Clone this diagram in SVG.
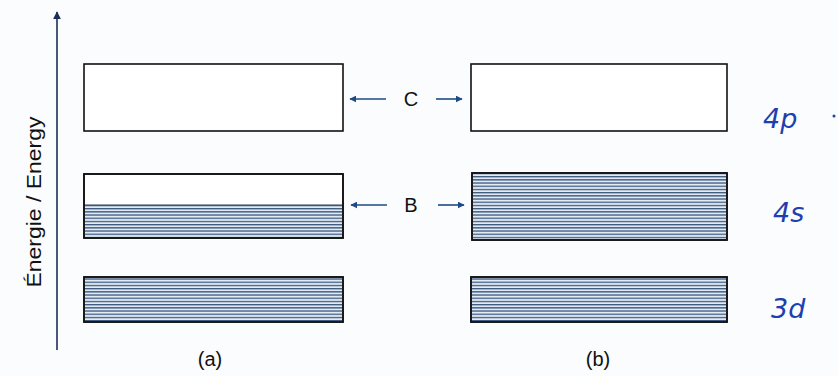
<svg xmlns="http://www.w3.org/2000/svg" width="838" height="376" viewBox="0 0 838 376">
<defs>
<pattern id="hatch" width="8" height="3.2" patternUnits="userSpaceOnUse">
<rect width="8" height="3.2" fill="#e2eaf3"/>
<rect y="0" width="8" height="1.3" fill="#3a5780"/>
</pattern>
<marker id="ah" viewBox="0 0 10 10" refX="9" refY="5" markerWidth="7" markerHeight="7" markerUnits="userSpaceOnUse" orient="auto">
<path d="M0,0 L10,5 L0,10 z" fill="#1f4a86"/>
</marker>
<marker id="axh" viewBox="0 0 10 10" refX="9" refY="5" markerWidth="8" markerHeight="8" markerUnits="userSpaceOnUse" orient="auto">
<path d="M0,0 L10,5 L0,10 z" fill="#1b2f5a"/>
</marker>
</defs>
<style>
.box{fill:#ffffff;stroke:#111;stroke-width:1.6}
.hb{fill:url(#hatch);stroke:none}
.lbl{font-family:"Liberation Sans",Arial,sans-serif;font-size:20px;fill:#111}
.hand{font-family:"DejaVu Sans",sans-serif;font-size:27px;fill:#1e3fb0;font-style:italic;font-weight:300}
.arr{stroke:#1f4a86;stroke-width:1.6;fill:none}
</style>
<rect width="838" height="376" fill="#fbfcfd"/>
<g id="axis">
<line x1="57" y1="350" x2="57" y2="12" stroke="#1b2f5a" stroke-width="1.6" marker-end="url(#axh)"/>
<text class="lbl" transform="translate(41,202) rotate(-90)" text-anchor="middle" textLength="171" lengthAdjust="spacingAndGlyphs" font-size="19">Énergie / Energy</text>
</g>
<g id="a-top"><rect class="box" x="84" y="64" width="259" height="67"/></g>
<g id="a-mid">
<rect class="box" x="84" y="174" width="259" height="64"/>
<rect class="hb" x="85" y="205" width="257" height="32"/>
<line x1="84" y1="205" x2="343" y2="205" stroke="#2a3f5a" stroke-width="1"/>
<rect x="84" y="174" width="259" height="64" fill="none" stroke="#111" stroke-width="1.6"/>
</g>
<g id="a-bot">
<rect class="box" x="84" y="277" width="259" height="45"/>
<rect class="hb" x="85" y="278" width="257" height="43"/>
<rect x="84" y="277" width="259" height="45" fill="none" stroke="#111" stroke-width="1.6"/>
</g>
<g id="b-top"><rect class="box" x="471" y="64" width="256" height="67"/></g>
<g id="b-mid">
<rect class="box" x="472" y="173" width="255" height="67"/>
<rect class="hb" x="473" y="174" width="253" height="65"/>
<rect x="472" y="173" width="255" height="67" fill="none" stroke="#111" stroke-width="1.6"/>
</g>
<g id="b-bot">
<rect class="box" x="471" y="277" width="256" height="45"/>
<rect class="hb" x="472" y="278" width="254" height="43"/>
<rect x="471" y="277" width="256" height="45" fill="none" stroke="#111" stroke-width="1.6"/>
</g>
<g id="label-C"><text class="lbl" x="411" y="106" text-anchor="middle">C</text></g>
<g id="label-B"><text class="lbl" x="411" y="212" text-anchor="middle">B</text></g>
<g id="connectors">
<line class="arr" x1="386" y1="99" x2="350" y2="99" marker-end="url(#ah)"/>
<line class="arr" x1="436" y1="99" x2="462" y2="99" marker-end="url(#ah)"/>
<line class="arr" x1="387" y1="205" x2="351" y2="205" marker-end="url(#ah)"/>
<line class="arr" x1="438" y1="205" x2="464" y2="205" marker-end="url(#ah)"/>
</g>
<g id="captions">
<text class="lbl" x="210" y="366" text-anchor="middle">(a)</text>
<text class="lbl" x="598" y="366" text-anchor="middle">(b)</text>
</g>
<g id="hand-labels">
<text class="hand" x="763" y="128">4p</text>
<circle cx="834" cy="116" r="1.5" fill="#1e3fb0"/>
<text class="hand" x="773" y="222">4s</text>
<text class="hand" x="771" y="318">3d</text>
</g>
</svg>
